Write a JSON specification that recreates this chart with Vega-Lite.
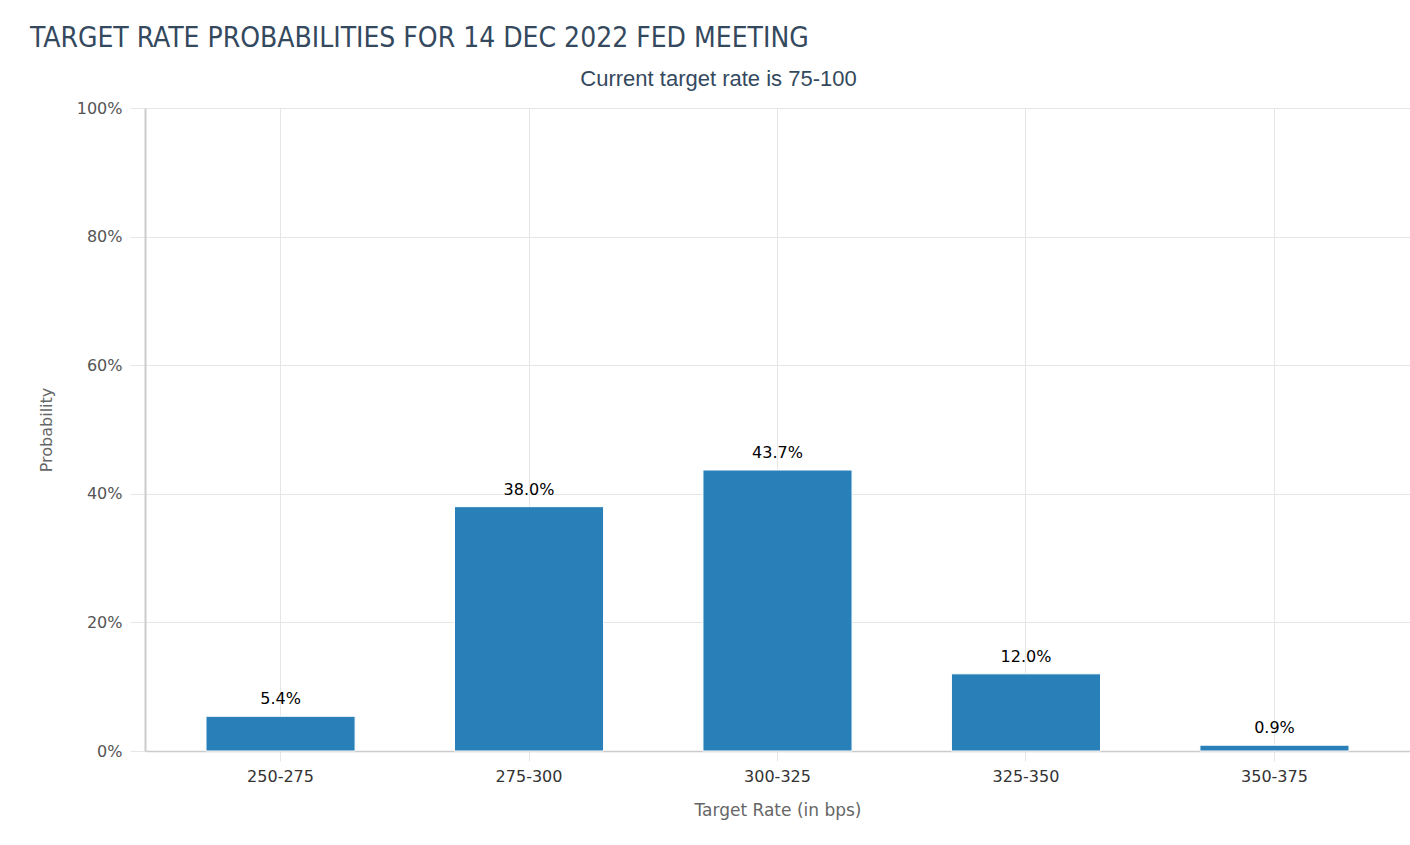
{
  "$schema": "https://vega.github.io/schema/vega-lite/v6.json",
  "width": 1265,
  "height": 643,
  "autosize": {"type": "none"},
  "padding": {"left": 145, "top": 108, "right": 0, "bottom": 94},
  "background": "#ffffff",
  "title": {
    "text": "TARGET RATE PROBABILITIES FOR 14 DEC 2022 FED MEETING",
    "anchor": "start",
    "frame": "group",
    "dx": -115,
    "offset": 14,
    "font": "Liberation Sans Narrow, DejaVu Sans Condensed, sans-serif",
    "fontSize": 28,
    "fontWeight": "normal",
    "color": "#34495e"
  },
  "data": {
    "values": [
      {"rate": "250-275", "prob": 0.054},
      {"rate": "275-300", "prob": 0.380},
      {"rate": "300-325", "prob": 0.437},
      {"rate": "325-350", "prob": 0.120},
      {"rate": "350-375", "prob": 0.009}
    ]
  },
  "config": {
    "view": {"stroke": null},
    "font": "DejaVu Sans"
  },
  "resolve": {"axis": {"x": "independent"}},
  "layer": [
    {
      "mark": {"type": "bar", "color": "#2980b9", "stroke": "#ffffff", "strokeWidth": 1},
      "encoding": {
        "x": {
          "field": "rate",
          "type": "nominal",
          "sort": null,
          "scale": {"paddingInner": 0.4, "paddingOuter": 0.2455},
          "axis": {
            "orient": "bottom",
            "title": "Target Rate (in bps)",
            "titleFont": "DejaVu Sans",
            "titleFontSize": 17,
            "titleFontWeight": "normal",
            "titleColor": "#666666",
            "titlePadding": 18,
            "labelAngle": 0,
            "labelFontSize": 16,
            "labelColor": "#333333",
            "labelPadding": 7,
            "bandPosition": 0.5,
            "grid": true,
            "gridColor": "#e6e6e6",
            "gridWidth": 1,
            "ticks": true,
            "tickSize": 10,
            "tickColor": "#e6e6e6",
            "domain": true,
            "domainColor": "#cccccc",
            "domainWidth": 1.5
          }
        },
        "y": {
          "field": "prob",
          "type": "quantitative",
          "scale": {"domain": [0, 1]},
          "axis": {
            "title": "Probability",
            "titleFont": "DejaVu Sans",
            "titleFontSize": 16,
            "titleFontWeight": "normal",
            "titleColor": "#666666",
            "titlePadding": 22,
            "values": [0, 0.2, 0.4, 0.6, 0.8, 1],
            "format": ".0%",
            "labelFontSize": 16,
            "labelColor": "#555555",
            "labelPadding": 8,
            "grid": true,
            "gridColor": "#e6e6e6",
            "gridWidth": 1,
            "ticks": true,
            "tickSize": 15,
            "tickColor": "#e6e6e6",
            "domain": true,
            "domainColor": "#cccccc",
            "domainWidth": 2
          }
        }
      }
    },
    {
      "mark": {"type": "text", "baseline": "bottom", "dy": -9, "fontSize": 16, "color": "#000000"},
      "encoding": {
        "x": {
          "field": "rate",
          "type": "nominal",
          "sort": null,
          "axis": {
            "orient": "top",
            "title": "Current target rate is 75-100",
            "titleFont": "Liberation Sans, sans-serif",
            "titleFontSize": 22,
            "titleFontWeight": "normal",
            "titleColor": "#34495e",
            "titleX": 573,
            "titlePadding": 18,
            "labels": false,
            "ticks": false,
            "domain": false,
            "grid": false
          }
        },
        "y": {"field": "prob", "type": "quantitative"},
        "text": {"field": "prob", "type": "quantitative", "format": ".1%"}
      }
    }
  ]
}
